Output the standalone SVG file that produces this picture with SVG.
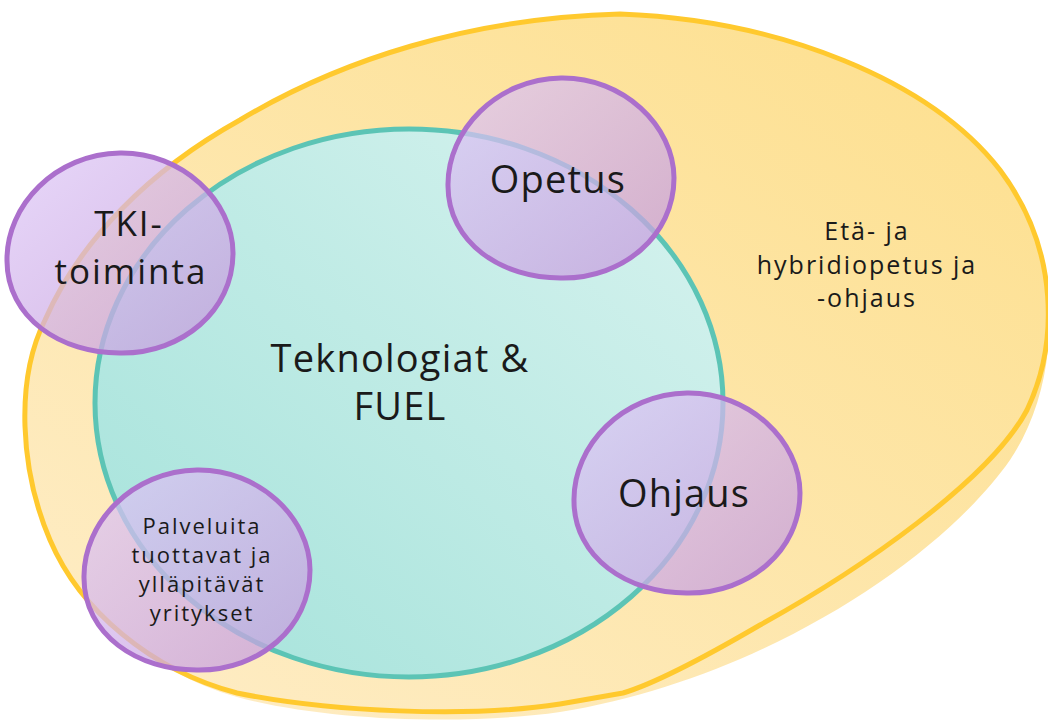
<svg xmlns="http://www.w3.org/2000/svg" width="1048" height="722" viewBox="0 0 1048 722">
  <style>
    .lbl { font-family: "Open Sans", "Liberation Sans", sans-serif; fill: #1a1a1a; text-anchor: middle; }
    .big { font-size: 38px; letter-spacing: 1.2px; }
    .tki { font-size: 35px; letter-spacing: 2px; }
    .mid { font-size: 25px; letter-spacing: 2px; }
    .sml { font-size: 22px; letter-spacing: 2px; }
    .blob { fill: url(#gPurple); stroke: #AB6FCC; stroke-width: 5; }
  </style>
  <defs>
    <linearGradient id="gYellow" x1="1" y1="0" x2="0" y2="1">
      <stop offset="0" stop-color="#FDDF8C"/>
      <stop offset="1" stop-color="#FEEDC8"/>
    </linearGradient>
    <linearGradient id="gTeal" x1="1" y1="0" x2="0" y2="1">
      <stop offset="0" stop-color="#D8F3EF"/>
      <stop offset="1" stop-color="#A3E2DA"/>
    </linearGradient>
    <linearGradient id="gPurple" x1="0" y1="0" x2="1" y2="1">
      <stop offset="0" stop-color="#DEC8F7" stop-opacity="0.72"/>
      <stop offset="1" stop-color="#C49BDB" stop-opacity="0.75"/>
    </linearGradient>
    <path id="blobShape" d="M0,-100 C62,-101 113,-52 113,0 C113,58 62,100 2,100 C-60,101 -113,64 -113,8 C-114,-48 -64,-99 0,-100 Z"/>
  </defs>

  <g id="yellow-area">
    <path d="M620,14 C780,20 930,80 1000,170 C1064,250 1064,380 1010,460 C940,560 760,680 560,712 C470,725 330,722 237,697 C150,672 80,610 50,540 C20,470 15,380 45,320 C80,240 150,170 240,120 C340,60 470,18 620,14 Z" fill="url(#gYellow)"/>
    <path d="M620,14 C780,20 930,80 1000,170 C1060,250 1058,345 1027,410 C990,480 860,570 760,625 C700,660 650,685 623,693 L560,704 C470,718 330,712 237,693 C150,670 80,610 50,540 C20,470 15,380 45,320 C80,240 150,170 240,120 C340,60 470,18 620,14 Z" fill="none" stroke="#FFC92E" stroke-width="5" stroke-linejoin="round"/>
    <text class="lbl mid" x="867" y="240">Etä- ja</text>
    <text class="lbl mid" x="867" y="274">hybridiopetus ja</text>
    <text class="lbl mid" x="867" y="307">-ohjaus</text>
  </g>

  <g id="teknologiat">
    <ellipse cx="409" cy="403" rx="314" ry="274" fill="url(#gTeal)" stroke="#5CC4B5" stroke-width="5"/>
    <text class="lbl big" x="400" y="372">Teknologiat &amp;</text>
    <text class="lbl big" x="400" y="420">FUEL</text>
  </g>

  <g id="connectors"></g>

  <g id="tki">
    <use href="#blobShape" class="blob" transform="translate(120,253)"/>
    <text class="lbl tki" x="129" y="236">TKI-</text>
    <text class="lbl tki" x="131" y="284">toiminta</text>
  </g>

  <g id="opetus">
    <use href="#blobShape" class="blob" transform="translate(561,178)"/>
    <text class="lbl big" x="558" y="193">Opetus</text>
  </g>

  <g id="ohjaus">
    <use href="#blobShape" class="blob" transform="translate(687,493)"/>
    <text class="lbl big" x="684" y="507">Ohjaus</text>
  </g>

  <g id="palveluita">
    <use href="#blobShape" class="blob" transform="translate(197,570)"/>
    <text class="lbl sml" x="202" y="534">Palveluita</text>
    <text class="lbl sml" x="202" y="563">tuottavat ja</text>
    <text class="lbl sml" x="202" y="592">ylläpitävät</text>
    <text class="lbl sml" x="202" y="621">yritykset</text>
  </g>
</svg>
